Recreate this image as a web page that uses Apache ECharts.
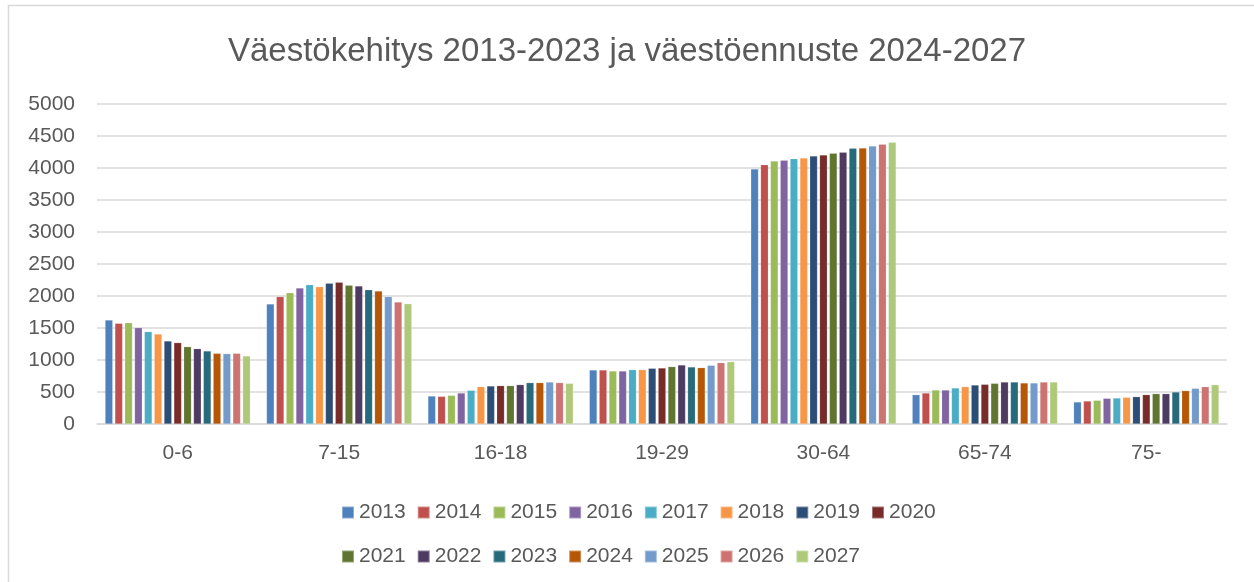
<!DOCTYPE html>
<html>
<head>
<meta charset="utf-8">
<title>Väestökehitys</title>
<script src="https://cdn.jsdelivr.net/npm/echarts@6/dist/echarts.min.js"></script>
<style>
	html, body { margin: 0; padding: 0; background: #fff; }
	#chartId { width: 1254px; height: 582px; }
</style>
</head>
<body>
<div id="chartId"></div>
<script>
// ikäryhmät
var categories = ['0-6', '7-15', '16-18', '19-29', '30-64', '65-74', '75-'];
var years = ['2013', '2014', '2015', '2016', '2017', '2018', '2019', '2020',
	'2021', '2022', '2023', '2024', '2025', '2026', '2027'];
var colors = ['#4F81BD', '#C0504D', '#9BBB59', '#8064A2', '#4BACC6', '#F79646', '#2C4D75', '#772C2A',
	'#5F7530', '#4D3B62', '#276A7C', '#B65708', '#729ACA', '#CD7371', '#AFC97A'];
var yTicks = [0, 500, 1000, 1500, 2000, 2500, 3000, 3500, 4000, 4500, 5000];

// arvot vuosittain, järjestyksessä categories
var v2013 = [1625, 1875, 437, 844, 3984, 458, 344];
var v2014 = [1573, 1990, 432, 844, 4052, 484, 359];
var v2015 = [1583, 2052, 448, 828, 4109, 531, 370];
var v2016 = [1505, 2125, 484, 828, 4120, 531, 401];
var v2017 = [1443, 2177, 526, 849, 4146, 563, 406];
var v2018 = [1406, 2146, 583, 849, 4156, 583, 417];
var v2019 = [1297, 2198, 594, 870, 4188, 609, 427];
var v2020 = [1271, 2214, 599, 875, 4203, 620, 458];
var v2021 = [1208, 2167, 599, 896, 4229, 635, 474];
var v2022 = [1177, 2156, 615, 922, 4245, 656, 474];
var v2023 = [1141, 2099, 646, 891, 4307, 656, 500];
var v2024 = [1104, 2078, 646, 880, 4313, 641, 521];
var v2025 = [1099, 1990, 656, 917, 4344, 641, 557];
var v2026 = [1104, 1906, 646, 958, 4370, 656, 583];
var v2027 = [1063, 1880, 635, 974, 4401, 656, 614];

var values = [v2013, v2014, v2015, v2016, v2017, v2018, v2019, v2020,
	v2021, v2022, v2023, v2024, v2025, v2026, v2027];

var chart = {
	font: '"Liberation Sans", Arial, sans-serif',
	textColor: '#595959',
	gridColor: '#d9d9d9',
	init: function(){
		var myChart = echarts.init(document.getElementById('chartId'));
		myChart.setOption(chart.getOption());
	},
	getSeries: function(){
		var series = [];
		for (var i = 0; i < years.length; i++) {
			series.push({
				name: years[i],
				type: 'bar',
				data: values[i],
				barGap: '28%',
				barCategoryGap: '10%',
				itemStyle: { color: colors[i], borderColor: 'rgba(255,255,255,0.35)', borderWidth: 0.5 }
			});
		}
		return series;
	},
	getLegend: function(data, top){
		return {
			data: data,
			left: 336,
			top: top,
			itemWidth: 12,
			itemHeight: 12,
			itemGap: 11,
			icon: 'rect',
			textStyle: { color: chart.textColor, fontSize: 21, fontFamily: chart.font }
		};
	},
	getOption: function(){
		var option = {
			animation: false,
			color: colors,
			title: {
				text: 'Väestökehitys 2013-2023 ja väestöennuste 2024-2027',
				left: 'center',
				top: 30,
				textStyle: { color: chart.textColor, fontSize: 33, fontWeight: 'normal', fontFamily: chart.font }
			},
			legend: [
				chart.getLegend(years.slice(0, 8), 497),
				chart.getLegend(years.slice(8), 541)
			],
			grid: { left: 97, right: 27, top: 104, bottom: 158 },
			xAxis: {
				type: 'category',
				data: categories,
				axisLine: { lineStyle: { color: chart.gridColor, width: 1.5 } },
				axisTick: { show: false },
				axisLabel: { color: chart.textColor, fontSize: 21, margin: 19, fontFamily: chart.font }
			},
			yAxis: {
				type: 'value',
				min: yTicks[0],
				max: yTicks[yTicks.length - 1],
				interval: yTicks[1] - yTicks[0],
				axisLine: { show: false },
				axisTick: { show: false },
				splitLine: { lineStyle: { color: chart.gridColor, width: 1.5 } },
				axisLabel: {
					color: chart.textColor, fontSize: 21, margin: 22, fontFamily: chart.font,
					formatter: function(v){ return String(v); }
				}
			},
			graphic: [{
				type: 'rect',
				shape: { x: 8.5, y: 5.5, width: 1400, height: 800 },
				style: { fill: 'none', stroke: chart.gridColor, lineWidth: 1.5 },
				silent: true
			}],
			series: chart.getSeries()
		};
		return option;
	}
};

chart.init();
</script>
</body>
</html>
